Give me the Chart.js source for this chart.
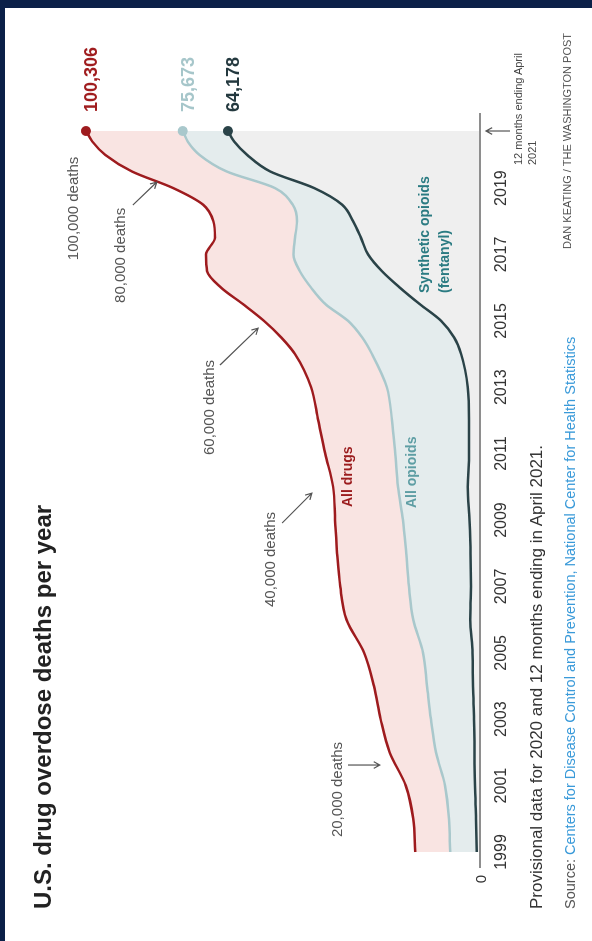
<!DOCTYPE html>
<html>
<head>
<meta charset="utf-8">
<script src="https://cdn.jsdelivr.net/npm/chart.js@4.4.0/dist/chart.umd.min.js"></script>
<style>
  html, body { margin: 0; padding: 0; }
  body { width: 592px; height: 941px; background: #0b2048; position: relative; overflow: hidden;
         font-family: "Liberation Sans", Arial, sans-serif; }
  #card { position: absolute; left: 5px; top: 8px; width: 587px; height: 933px; background: #fff; overflow: hidden; }
  /* everything is laid out sideways, then turned a quarter left */
  #inner { position: absolute; left: 0; top: 0; width: 933px; height: 587px;
           transform-origin: 0 0; transform: translateY(933px) rotate(-90deg); }
  #inner canvas { position: absolute; left: 0; top: 0; }
  .t { position: absolute; white-space: nowrap; line-height: 1; }
  #title { left: 32px; top: 26px; font-size: 24px; font-weight: bold; color: #222; }
  #note { left: 32px; top: 523px; font-size: 17px; color: #333; }
  #source { left: 32px; top: 558px; font-size: 14.5px; color: #555; }
  #source span { color: #3a9ad9; }
  #credit { right: 25px; top: 557px; font-size: 11px; color: #555; }
  #m1 { left: 776px; top: 508px; font-size: 11px; color: #444; }
  #m2 { left: 776px; top: 522px; font-size: 11px; color: #444; }
</style>
</head>
<body>
<div id="card">
  <div id="inner">
    <canvas id="chart" width="933" height="587"></canvas>
    <div class="t" id="title">U.S. drug overdose deaths per year</div>
    <div class="t" id="note">Provisional data for 2020 and 12 months ending in April 2021.</div>
    <div class="t" id="source">Source: <span>Centers for Disease Control and Prevention, National Center for Health Statistics</span></div>
    <div class="t" id="credit">DAN KEATING / THE WASHINGTON POST</div>
    <div class="t" id="m1">12 months ending April</div>
    <div class="t" id="m2">2021</div>
  </div>
</div>
<script>
// time points (last one = 12 months ending April 2021)
const years = [1999, 2000, 2001, 2002, 2003, 2004, 2005, 2006, 2007, 2008, 2009, 2010, 2011, 2012, 2013,
  2014, 2014.5, 2015, 2015.5, 2016, 2016.5, 2017, 2017.5, 2018, 2018.5, 2019, 2019.5, 2020, 2020.4, 2020.72];

const allDrugs = [16500, 17000, 18900, 23000, 25300, 27000, 29500, 34000, 35600, 36400, 36900, 37400, 39400, 41200, 43000,
  47100, 50600, 55000, 60300, 65900, 69500, 69800, 67500, 67900, 70500, 78100, 88600, 95400, 98700, 100306];

const allOpioids = [7600, 7900, 8900, 11200, 12500, 13500, 14500, 17000, 18100, 18800, 19600, 20900, 21600, 22400, 23700,
  27500, 30000, 33600, 39300, 43000, 45900, 47500, 47100, 46600, 47700, 52200, 64500, 71400, 74400, 75673];

const synthetic = [800, 1000, 1300, 1400, 1500, 1800, 1900, 2500, 2300, 2400, 2700, 3100, 2800, 2800, 3100,
  4800, 6600, 9900, 15300, 20400, 25000, 28500, 30300, 32300, 35100, 42200, 53400, 59300, 62600, 64178];

const tickYears = [1999, 2001, 2003, 2005, 2007, 2009, 2011, 2013, 2015, 2017, 2019];

const lineColors = ['#9e1b1e', '#a9c8cc', '#2a4348'];
const fillColors = ['#f9e4e2', '#e4eced', '#efefef'];
const valueColors = ['#a01d1f', '#a6c6ca', '#24393f'];

const FONT = '"Liberation Sans", Arial, sans-serif';

// labels sitting in the plot, placed in data units
const notes = [
  { text: '20,000 deaths', x: 1999.45, y: 36200, arrow: [2001.62, 33600, 2001.62, 25500] },
  { text: '40,000 deaths', x: 2006.38, y: 53200, arrow: [2008.91, 50400, 2009.81, 42800] },
  { text: '60,000 deaths', x: 2010.96, y: 68800, arrow: [2013.67, 66200, 2014.78, 56500] },
  { text: '80,000 deaths', x: 2015.54, y: 91400, arrow: [2018.49, 88400, 2019.18, 82300] },
  { text: '100,000 deaths', x: 2016.83, y: 103400 }
];
const seriesLabels = [
  { text: 'All drugs', x: 2009.39, y: 33700, color: '#9b1c1e' },
  { text: 'All opioids', x: 2009.36, y: 17300, color: '#5e9ea4' },
  { text: 'Synthetic opioids', x: 2015.84, y: 13900, color: '#2b7b82' },
  { text: '(fentanyl)', x: 2015.84, y: 8800, color: '#2b7b82' }
];

function arrow(ctx, x1, y1, x2, y2) {
  const a = Math.atan2(y2 - y1, x2 - x1), h = 7;
  ctx.beginPath();
  ctx.moveTo(x1, y1); ctx.lineTo(x2, y2);
  ctx.moveTo(x2 - h * Math.cos(a - 0.5), y2 - h * Math.sin(a - 0.5));
  ctx.lineTo(x2, y2);
  ctx.lineTo(x2 - h * Math.cos(a + 0.5), y2 - h * Math.sin(a + 0.5));
  ctx.stroke();
}

const overlay = {
  id: 'overlay',
  afterDatasetsDraw(chart) {
    const { ctx, chartArea: a, scales: { x, y } } = chart;
    ctx.save();
    // baseline
    const y0 = y.getPixelForValue(0);
    ctx.strokeStyle = '#8e8e8e';
    ctx.lineWidth = 2;
    ctx.beginPath(); ctx.moveTo(a.left - 16, y0); ctx.lineTo(a.right + 18, y0); ctx.stroke();
    ctx.fillStyle = '#333';
    ctx.font = '15px ' + FONT;
    ctx.textAlign = 'right'; ctx.textBaseline = 'middle';
    ctx.fillText('0', a.left - 23, y0 + 2);

    // arrow to the last point
    ctx.strokeStyle = '#555'; ctx.lineWidth = 1.2;
    const xe = x.getPixelForValue(years[years.length - 1]);
    arrow(ctx, xe, y0 + 30, xe, y0 + 6);

    // annotations
    ctx.fillStyle = '#555';
    ctx.font = '15px ' + FONT;
    ctx.textAlign = 'left';
    notes.forEach(n => {
      ctx.fillText(n.text, x.getPixelForValue(n.x), y.getPixelForValue(n.y));
      if (n.arrow) {
        const [ax1, ay1, ax2, ay2] = n.arrow;
        arrow(ctx, x.getPixelForValue(ax1), y.getPixelForValue(ay1), x.getPixelForValue(ax2), y.getPixelForValue(ay2));
      }
    });

    ctx.font = 'bold 14px ' + FONT;
    seriesLabels.forEach(s => {
      ctx.fillStyle = s.color;
      ctx.fillText(s.text, x.getPixelForValue(s.x), y.getPixelForValue(s.y));
    });

    // end values
    ctx.font = 'bold 18px ' + FONT;
    ctx.textBaseline = 'top';
    chart.data.datasets.forEach((ds, i) => {
      const meta = chart.getDatasetMeta(i);
      const pt = meta.data[meta.data.length - 1];
      ctx.fillStyle = valueColors[i];
      ctx.fillText(ds.data[ds.data.length - 1].y.toLocaleString('en-US'), pt.x + 19, pt.y - 3);
    });
    ctx.restore();
  }
};

function makeSet(label, values, i, fill) {
  const last = values.length - 1;
  return {
    label,
    data: years.map((t, k) => ({ x: t, y: values[k] })),
    borderColor: lineColors[i],
    backgroundColor: fillColors[i],
    borderWidth: 2.5,
    fill,
    clip: false,
    cubicInterpolationMode: 'monotone',
    pointRadius: c => c.dataIndex === last ? 5 : 0,
    pointBackgroundColor: lineColors[i],
    pointBorderWidth: 0
  };
}

new Chart(document.getElementById('chart'), {
  type: 'line',
  data: {
    datasets: [
      makeSet('All drugs', allDrugs, 0, '+1'),
      makeSet('All opioids', allOpioids, 1, '+1'),
      makeSet('Synthetic opioids (fentanyl)', synthetic, 2, 'origin')
    ]
  },
  options: {
    responsive: false,
    animation: false,
    layout: { padding: { left: 89, right: 123, top: 43, bottom: 72 } },
    plugins: {
      legend: { display: false },
      tooltip: { enabled: false },
      filler: { drawTime: 'beforeDatasetsDraw' }
    },
    scales: {
      x: {
        type: 'linear',
        min: 1999,
        max: years[years.length - 1],
        grid: { display: false },
        border: { display: false },
        afterBuildTicks: s => { s.ticks = tickYears.map(v => ({ value: v })); },
        afterFit: s => { s.height = 40; },
        ticks: { color: '#333', font: { size: 16, family: FONT }, padding: 4, maxRotation: 0, autoSkip: false,
                 callback: v => String(v) }
      },
      y: { min: 0, max: 110000, display: false }
    }
  },
  plugins: [overlay]
});
</script>
</body>
</html>
